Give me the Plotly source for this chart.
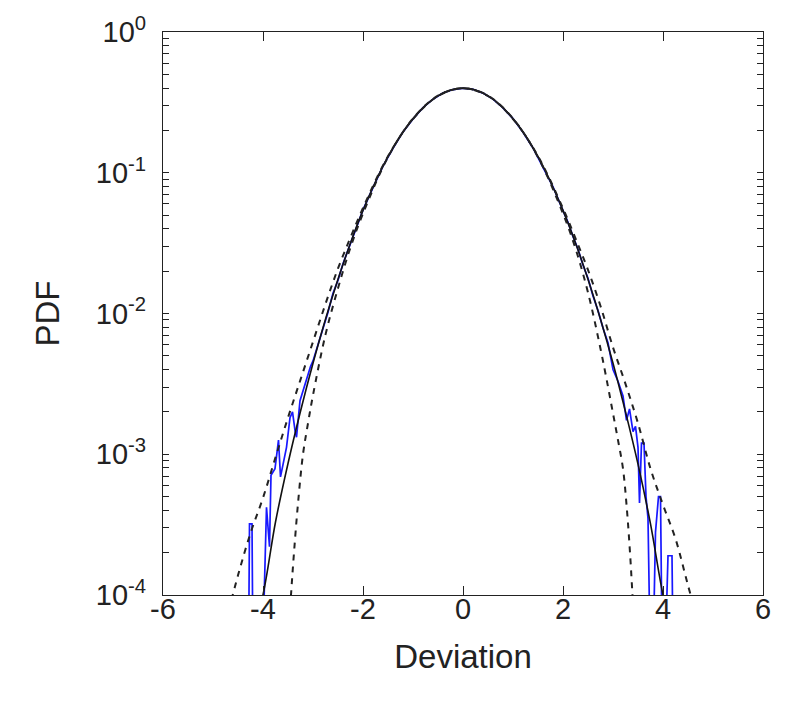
import plotly.graph_objects as go

# ---- data ----
# measured PDF (blue); values below 1e-4 are bins that drop off the axis
data_x = [-4.30, -4.27, -4.22, -4.19, -4.05, -3.93, -3.87, -3.84, -3.76, -3.69, -3.65,
          -3.59, -3.53, -3.46, -3.41, -3.36, -3.33, -3.26, -3.16, -3.05,
          -3.0, -2.9, -2.8, -2.7, -2.6, -2.5, -2.4, -2.3, -2.2, -2.1, -2.0,
          -1.8, -1.6, -1.4, -1.2, -1.0, -0.8, -0.6, -0.4, -0.2, 0.0,
          0.2, 0.4, 0.6, 0.8, 1.0, 1.2, 1.4, 1.6, 1.8, 2.0,
          2.1, 2.2, 2.3, 2.4, 2.5, 2.6, 2.7, 2.8, 2.9, 3.0,
          3.1, 3.2, 3.27, 3.33, 3.4, 3.45, 3.5, 3.53, 3.57, 3.62, 3.66, 3.70,
          3.77, 3.85, 3.91, 3.95, 4.0, 4.1, 4.18, 4.22]
data_pdf = [1e-5, 3.2e-4, 3.2e-4, 1e-5, 1e-5, 4.2e-4, 2.2e-4, 7.1e-4, 7.9e-4, 1.26e-3, 6.9e-4,
            8.9e-4, 1.12e-3, 1.82e-3, 2.0e-3, 1.48e-3, 1.32e-3, 2.4e-3, 3.2e-3, 4.2e-3,
            0.0046, 0.0060, 0.0081, 0.0102, 0.0139, 0.0172, 0.0226, 0.0281, 0.0360, 0.0437, 0.0545,
            0.0785, 0.1115, 0.1490, 0.1950, 0.2410, 0.2900, 0.3330, 0.3690, 0.3900, 0.3985,
            0.3915, 0.3680, 0.3335, 0.2890, 0.2425, 0.1940, 0.1500, 0.1105, 0.0795, 0.0538,
            0.0445, 0.0352, 0.0286, 0.0221, 0.0178, 0.0133, 0.0105, 0.0079, 0.0062, 0.0040,
            0.0033, 0.0026, 1.74e-3, 2.1e-3, 1.45e-3, 1.58e-3, 1.12e-3, 4.5e-4, 1.2e-3, 1.2e-3, 5.0e-4, 3.5e-4,
            1e-5, 2.8e-4, 5.0e-4, 5.0e-4, 1e-5, 1.9e-4, 1.9e-4, 1e-5]

# black solid curve
norm_x = [-4.25, -4.0, -3.75, -3.5, -3.25, -3.0, -2.75, -2.5, -2.25, -2.0, -1.75, -1.5,
          -1.25, -1.0, -0.75, -0.5, -0.25, 0.0, 0.25, 0.5, 0.75, 1.0, 1.25, 1.5, 1.75,
          2.0, 2.25, 2.5, 2.75, 3.0, 3.25, 3.5, 3.75, 4.0, 4.25]
norm_pdf = [4.5e-5, 1.0e-4, 3.3e-4, 8.6e-4, 2.02e-3, 4.43e-3, 9.1e-3, 0.0175, 0.0317, 0.0540,
            0.0863, 0.130, 0.183, 0.242, 0.301, 0.352, 0.387, 0.399, 0.387, 0.352, 0.301,
            0.242, 0.183, 0.130, 0.0863, 0.0540, 0.0317, 0.0175, 9.1e-3, 4.43e-3, 2.0e-3,
            8.5e-4, 3.2e-4, 1.0e-4, 4.2e-5]

# outer dashed curve (heavier tails)
outer_x = [-4.75, -4.5, -4.25, -4.0, -3.75, -3.5, -3.25, -3.0, -2.75, -2.5, -2.25, -2.0,
           -1.5, -1.0, -0.5, 0.0, 0.5, 1.0, 1.5, 2.0, 2.25, 2.5, 2.75, 3.0, 3.25, 3.5,
           3.75, 4.0, 4.25, 4.5, 4.75]
outer_pdf = [6.3e-5, 1.38e-4, 2.75e-4, 4.9e-4, 9.5e-4, 1.82e-3, 3.39e-3, 6.3e-3, 0.0117,
             0.0209, 0.0347, 0.0562, 0.131, 0.241, 0.351, 0.398, 0.351, 0.241, 0.131,
             0.0558, 0.0342, 0.0204, 0.0113, 5.75e-3, 3.16e-3, 1.66e-3, 7.9e-4, 4.37e-4,
             2.51e-4, 1.17e-4, 5.6e-5]

# inner dashed curve (lighter tails)
inner_x = [-3.5, -3.44, -3.38, -3.3, -3.2, -3.1, -3.0, -2.75, -2.5, -2.25, -2.0, -1.5,
           -1.0, -0.5, 0.0, 0.5, 1.0, 1.5, 2.0, 2.25, 2.5, 2.75, 2.9, 3.0, 3.1, 3.2,
           3.28, 3.34, 3.39, 3.45]
inner_pdf = [4.47e-5, 1.0e-4, 2.0e-4, 4.47e-4, 1.0e-3, 1.66e-3, 2.63e-3, 7.08e-3, 0.0151,
             0.0295, 0.0513, 0.129, 0.243, 0.353, 0.398, 0.353, 0.243, 0.129, 0.0513,
             0.0290, 0.0141, 5.62e-3, 3.02e-3, 1.95e-3, 1.26e-3, 7.9e-4, 3.98e-4, 2.0e-4,
             1.0e-4, 4.47e-5]

x_ticks = [-6, -4, -2, 0, 2, 4, 6]
x_tick_text = ["-6", "-4", "-2", "0", "2", "4", "6"]
y_major = [1e-4, 1e-3, 1e-2, 1e-1, 1]
y_major_text = ["10<sup>-4</sup>", "10<sup>-3</sup>", "10<sup>-2</sup>",
                "10<sup>-1</sup>", "10<sup>0</sup>"]
y_minor = [m * d for d in (1e-4, 1e-3, 1e-2, 1e-1) for m in range(2, 10)]
y_tickvals = y_major + y_minor
y_ticktext = y_major_text + [""] * len(y_minor)

fig = go.Figure()
fig.add_trace(go.Scatter(x=data_x, y=data_pdf, mode="lines",
                         line=dict(color="#1818ff", width=1.7)))
fig.add_trace(go.Scatter(x=norm_x, y=norm_pdf, mode="lines", line_shape="spline",
                         line=dict(color="#111111", width=1.6)))
fig.add_trace(go.Scatter(x=outer_x, y=outer_pdf, mode="lines", line_shape="spline",
                         line=dict(color="#222222", width=2, dash="6px,6px")))
fig.add_trace(go.Scatter(x=inner_x, y=inner_pdf, mode="lines", line_shape="spline",
                         line=dict(color="#222222", width=2, dash="6px,6px")))

font_fam = "Liberation Sans, Arial, sans-serif"
fig.update_layout(
    width=788, height=701,
    margin=dict(l=163, r=25, t=29, b=106),
    paper_bgcolor="white", plot_bgcolor="white",
    showlegend=False,
    font=dict(family=font_fam, color="#222222", size=30),
    xaxis=dict(range=[-6, 6], tickvals=x_ticks, ticktext=x_tick_text,
               ticks="inside", ticklen=9, tickwidth=1.2,
               tickcolor="#222222", showline=True, linecolor="#222222", linewidth=1.2,
               mirror="allticks", showgrid=False, zeroline=False,
               tickfont=dict(size=29), ticklabelstandoff=-12,
               title=dict(text="Deviation", font=dict(size=33), standoff=20)),
    yaxis=dict(type="log", range=[-4, 0], tickmode="array",
               tickvals=y_tickvals, ticktext=y_ticktext,
               ticks="inside", ticklen=6, tickwidth=1.2, tickcolor="#222222",
               showline=True, linecolor="#222222", linewidth=1.2, mirror="allticks",
               showgrid=False, zeroline=False, tickfont=dict(size=29),
               ticklabelstandoff=10,
               title=dict(text="PDF", font=dict(size=33), standoff=26)),
)

fig.write_html("out.html")
